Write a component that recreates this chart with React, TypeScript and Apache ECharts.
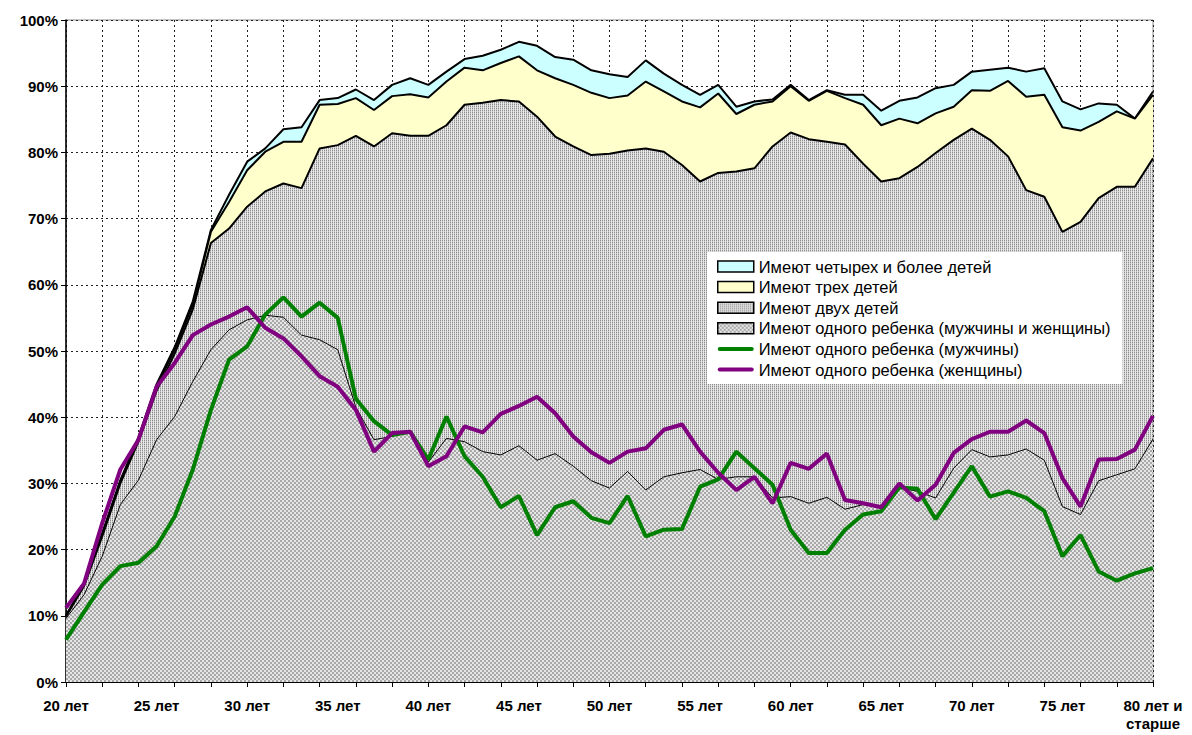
import React, { useEffect, useRef } from "react";
import * as echarts from "echarts";

const categories = [
  "20 лет", "21 год", "22 года", "23 года", "24 года", "25 лет", "26 лет", "27 лет", "28 лет", "29 лет",
  "30 лет", "31 год", "32 года", "33 года", "34 года", "35 лет", "36 лет", "37 лет", "38 лет", "39 лет",
  "40 лет", "41 год", "42 года", "43 года", "44 года", "45 лет", "46 лет", "47 лет", "48 лет", "49 лет",
  "50 лет", "51 год", "52 года", "53 года", "54 года", "55 лет", "56 лет", "57 лет", "58 лет", "59 лет",
  "60 лет", "61 год", "62 года", "63 года", "64 года", "65 лет", "66 лет", "67 лет", "68 лет", "69 лет",
  "70 лет", "71 год", "72 года", "73 года", "74 года", "75 лет", "76 лет", "77 лет", "78 лет", "79 лет",
  "80 лет и старше",
];

const oneChild = [
  9.6, 13.2, 19.0, 26.8, 30.5, 36.6, 40.1, 45.4, 50.2, 53.2,
  54.7, 55.4, 55.1, 52.4, 51.7, 50.2, 41.5, 36.6, 37.1, 37.8,
  33.2, 36.8, 36.3, 34.8, 34.3, 35.7, 33.5, 34.5, 32.6, 30.4,
  29.3, 31.8, 29.0, 31.0, 31.6, 32.1, 30.6, 31.0, 31.0, 27.8,
  28.0, 27.0, 27.9, 26.1, 26.8, 26.3, 29.4, 28.8, 27.8, 32.3,
  35.1, 34.0, 34.3, 35.2, 33.5, 26.5, 25.3, 30.4, 31.3, 32.2,
  36.7,
];
const twoChildren = [
  0.3, 1.3, 3.0, 3.2, 5.8, 7.4, 9.5, 10.9, 16.1, 15.3,
  17.1, 18.7, 20.2, 22.2, 28.9, 30.9, 41.0, 44.3, 45.8, 44.7,
  49.3, 47.3, 50.9, 52.7, 53.6, 52.0, 51.9, 47.9, 48.3, 49.2,
  50.5, 48.5, 51.6, 49.1, 46.5, 43.5, 46.3, 46.1, 46.6, 53.1,
  55.0, 55.0, 53.7, 55.1, 51.5, 49.3, 46.7, 49.0, 52.1, 49.6,
  48.5, 47.9, 45.1, 39.1, 39.8, 41.5, 44.2, 42.7, 43.5, 42.6,
  42.4,
];
const threeChildren = [
  0.1, 0.1, 0.3, 0.3, 0.4, 0.6, 0.6, 0.7, 1.7, 4.0,
  5.5, 6.0, 6.3, 7.0, 6.6, 6.2, 5.7, 5.5, 5.6, 6.3,
  5.8, 6.6, 5.6, 4.9, 5.6, 6.8, 7.0, 8.8, 9.3, 9.4,
  8.4, 8.3, 10.1, 9.1, 9.6, 11.2, 12.0, 8.7, 9.6, 6.8,
  7.0, 5.8, 7.7, 7.0, 8.9, 8.5, 9.0, 6.6, 6.0, 5.0,
  5.8, 7.4, 11.4, 14.1, 15.4, 15.8, 13.8, 11.5, 11.4, 10.3,
  9.6,
];
const fourPlus = [
  0.1, 0.2, 0.2, 0.2, 0.3, 0.4, 0.4, 0.5, 0.3, 1.1,
  1.3, 0.5, 1.9, 2.2, 0.7, 0.9, 1.3, 1.5, 1.7, 2.4,
  1.9, 1.5, 1.3, 2.2, 2.0, 2.2, 3.7, 3.2, 3.8, 3.4,
  3.6, 2.8, 3.2, 2.7, 2.5, 1.9, 1.3, 1.1, 0.5, 0.3,
  0.2, 0.1, 0.1, 0.5, 1.5, 2.2, 2.7, 3.9, 3.8, 3.3,
  2.8, 3.2, 2.0, 3.8, 4.0, 3.9, 3.2, 2.8, 1.0, 0.0,
  0.5,
];
const oneChildMen = [
  6.4, 10.6, 14.7, 17.5, 18.0, 20.5, 25.0, 32.1, 41.1, 48.7,
  50.7, 55.5, 58.1, 55.2, 57.3, 55.0, 42.8, 39.4, 37.3, 37.8,
  33.6, 40.1, 34.1, 31.0, 26.4, 28.1, 22.2, 26.4, 27.3, 24.8,
  24.0, 28.1, 22.0, 23.0, 23.1, 29.5, 30.6, 34.8, 32.3, 29.8,
  23.0, 19.5, 19.5, 23.0, 25.3, 25.8, 29.4, 29.2, 24.6, 28.6,
  32.6, 28.0, 28.8, 27.8, 25.8, 19.0, 22.2, 16.7, 15.3, 16.4,
  17.2,
];
const oneChildWomen = [
  11.2, 14.9, 24.0, 32.1, 36.6, 44.6, 48.2, 52.4, 54.0, 55.2,
  56.6, 53.5, 51.9, 49.2, 46.2, 44.6, 41.1, 34.8, 37.6, 37.8,
  32.6, 34.1, 38.6, 37.7, 40.5, 41.7, 43.1, 40.6, 37.1, 34.7,
  33.1, 34.8, 35.3, 38.1, 38.9, 34.8, 31.6, 29.0, 31.0, 27.0,
  33.1, 32.2, 34.5, 27.5, 27.0, 26.4, 30.0, 27.4, 29.8, 34.6,
  36.7, 37.8, 37.8, 39.5, 37.6, 30.8, 26.5, 33.6, 33.7, 35.1,
  40.2,
];

const NAMES = {
  four: "Имеют четырех и более детей",
  three: "Имеют трех детей",
  two: "Имеют двух детей",
  one: "Имеют одного ребенка (мужчины и женщины)",
  men: "Имеют одного ребенка (мужчины)",
  women: "Имеют одного ребенка (женщины)",
};

function makePattern(pixels: string[][]) {
  const h = pixels.length;
  const w = pixels[0].length;
  const c = document.createElement("canvas");
  c.width = w;
  c.height = h;
  const ctx = c.getContext("2d")!;
  for (let y = 0; y < h; y++) {
    for (let x = 0; x < w; x++) {
      ctx.fillStyle = pixels[y][x];
      ctx.fillRect(x, y, 1, 1);
    }
  }
  return { image: c.toDataURL(), repeat: "repeat", imageWidth: w, imageHeight: h } as any;
}

export default function App() {
  const ref = useRef<HTMLDivElement>(null);
  useEffect(() => {
    if (!ref.current) return;
    const chart = echarts.init(ref.current, null, { renderer: "svg" });
    const D = "#a8a8a8";
    const L = "#e6e6e6";
    const onePattern = makePattern([
      [D, D, L, L],
      [D, D, L, L],
      [L, L, D, D],
      [L, L, D, D],
    ]);
    const twoPattern = makePattern([
      ["#8c8c8c", "#e8e8e8"],
      ["#c4c4c4", "#e8e8e8"],
    ]);
    const CYAN = "#CCFFFF";
    const YELLOW = "#FFFFCC";
    const font = "'Liberation Sans', Arial, sans-serif";
    const lineIcon = "path://M2,0 L34,0 A2,2 0 0 1 34,4 L2,4 A2,2 0 0 1 2,0 Z";

    const areaSeries = (name: string, data: number[], fill: any, lw: number, z: number) => ({
      name,
      type: "line",
      stack: "total",
      data,
      symbol: "none",
      z,
      lineStyle: { color: "#000", width: lw },
      itemStyle: { color: "#000" },
      areaStyle: { color: fill, opacity: 1 },
    });

    chart.setOption({
      animation: false,
      grid: {
        left: 66,
        right: 39,
        top: 20,
        bottom: 53,
        show: true,
        borderColor: "#8c8c8c",
        borderWidth: 1,
        backgroundColor: "transparent",
      },
      legend: {
        orient: "vertical",
        left: 707,
        top: 252,
        z: 20,
        padding: [6, 12, 6, 10],
        itemGap: 3.6,
        itemWidth: 36,
        itemHeight: 11,
        backgroundColor: "#fff",
        textStyle: { fontFamily: font, fontSize: 16.5, color: "#000" },
        data: [
          { name: NAMES.four, icon: "rect", itemStyle: { color: CYAN, borderColor: "#000", borderWidth: 1.5 } },
          { name: NAMES.three, icon: "rect", itemStyle: { color: YELLOW, borderColor: "#000", borderWidth: 1.5 } },
          { name: NAMES.two, icon: "rect", itemStyle: { color: twoPattern, borderColor: "#000", borderWidth: 1.5 } },
          { name: NAMES.one, icon: "rect", itemStyle: { color: onePattern, borderColor: "#000", borderWidth: 1.5 } },
          { name: NAMES.men, icon: lineIcon, itemStyle: { color: "#008000", borderWidth: 0 } },
          { name: NAMES.women, icon: lineIcon, itemStyle: { color: "#800080", borderWidth: 0 } },
        ],
      },
      xAxis: {
        type: "category",
        data: categories,
        boundaryGap: false,
        axisLine: { lineStyle: { color: "#000", width: 1 } },
        axisTick: { interval: 1, length: 5, lineStyle: { color: "#000" } },
        axisLabel: {
          interval: 4,
          margin: 14,
          color: "#000",
          fontFamily: font,
          fontWeight: "bold",
          fontSize: 15,
          lineHeight: 18,
          formatter: (v: string) => (v === "80 лет и старше" ? "80 лет и\nстарше" : v),
        },
        splitLine: {
          show: true,
          interval: 1,
          lineStyle: { color: "#222", type: [2, 3], width: 1 },
        },
      },
      yAxis: {
        type: "value",
        min: 0,
        max: 100,
        interval: 10,
        axisLine: { show: true, lineStyle: { color: "#000", width: 1.5 } },
        axisTick: { show: true, length: 5, lineStyle: { color: "#000" } },
        axisLabel: {
          formatter: "{value}%",
          color: "#000",
          fontFamily: font,
          fontWeight: "bold",
          fontSize: 15,
          margin: 8,
        },
        splitLine: { show: true, lineStyle: { color: "#222", type: [2, 3], width: 1 } },
      },
      series: [
        areaSeries(NAMES.one, oneChild, onePattern, 1, 6),
        areaSeries(NAMES.two, twoChildren, twoPattern, 2, 5),
        areaSeries(NAMES.three, threeChildren, YELLOW, 2, 4),
        areaSeries(NAMES.four, fourPlus, CYAN, 2, 3),
        {
          name: NAMES.men,
          type: "line",
          data: oneChildMen,
          symbol: "none",
          z: 10,
          lineStyle: { color: "#008000", width: 4 },
          itemStyle: { color: "#008000" },
        },
        {
          name: NAMES.women,
          type: "line",
          data: oneChildWomen,
          symbol: "none",
          z: 10,
          lineStyle: { color: "#800080", width: 4 },
          itemStyle: { color: "#800080" },
        },
      ],
    });
    return () => chart.dispose();
  }, []);
  return (
    <div
      ref={ref}
      style={{ position: "fixed", left: 0, top: 0, width: 1192, height: 735, background: "#fff" }}
    />
  );
}
